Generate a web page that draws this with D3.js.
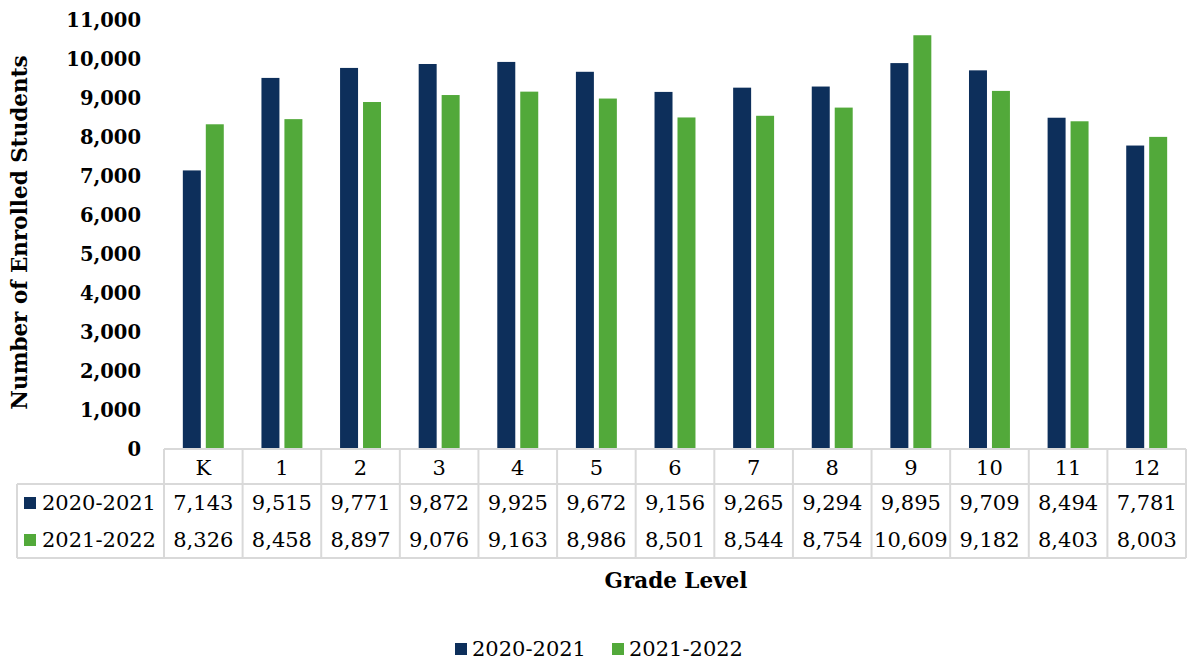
<!DOCTYPE html>
<html>
<head>
<meta charset="utf-8">
<script src="https://cdn.jsdelivr.net/npm/d3@7"></script>
<style>
  html, body { margin: 0; padding: 0; background: #fff; }
  svg { display: block; }
  text { font-family: "DejaVu Serif", "Liberation Serif", serif; fill: #000; }
</style>
</head>
<body>
<svg id="chart" width="1187" height="662"></svg>
<script>
const categories = ["K", "1", "2", "3", "4", "5", "6", "7", "8", "9", "10", "11", "12"];
const seriesNames = ["2020-2021", "2021-2022"];
const values2020 = [7143, 9515, 9771, 9872, 9925, 9672, 9156, 9265, 9294, 9895, 9709, 8494, 7781];
const values2021 = [8326, 8458, 8897, 9076, 9163, 8986, 8501, 8544, 8754, 10609, 9182, 8403, 8003];
const yTicks = [0, 1000, 2000, 3000, 4000, 5000, 6000, 7000, 8000, 9000, 10000, 11000];
const colors = ["#0d2f5b", "#52a93a"];
const seriesValues = [values2020, values2021];

const svg = d3.select("#chart");
const plotLeft = 164, plotRight = 1186, plotTop = 20, plotBottom = 449;
const tableLeft = 17;
const headerBottom = 484, tableBottom = 558;
const tableFont = 21;

const x = d3.scaleBand().domain(categories).range([plotLeft, plotRight]).padding(0);
const x1 = d3.scaleBand().domain(seriesNames).range([0, x.bandwidth()])
  .paddingInner(0.217).paddingOuter(0.82);
const y = d3.scaleLinear().domain([0, 11000]).range([plotBottom, plotTop]);
const fmt = d3.format(",");

// Bars
seriesNames.forEach((s, si) => {
  svg.append("g").selectAll("rect")
    .data(categories.map((c, i) => ({ c, v: seriesValues[si][i] })))
    .join("rect")
    .attr("x", d => x(d.c) + x1(s))
    .attr("width", x1.bandwidth())
    .attr("y", d => y(d.v))
    .attr("height", d => y(0) - y(d.v))
    .attr("fill", colors[si]);
});

// Y axis
const yAxis = d3.axisLeft(y).tickValues(yTicks).tickFormat(fmt).tickSize(0).tickPadding(0);
const yg = svg.append("g").attr("transform", "translate(141,0)").call(yAxis);
yg.select(".domain").remove();
yg.selectAll("text")
  .attr("font-family", "DejaVu Serif")
  .attr("font-weight", "bold")
  .attr("font-size", 19.5)
  .attr("fill", "#000")
  .attr("dy", "0.35em");

// Y axis title
svg.append("text")
  .attr("transform", `translate(27,${(plotTop + plotBottom) / 2 - 2}) rotate(-90)`)
  .attr("text-anchor", "middle")
  .attr("font-weight", "bold")
  .attr("font-size", 21.5)
  .text("Number of Enrolled Students");

// Data table
const grid = svg.append("g").attr("stroke", "#d9d9d9").attr("stroke-width", 2);
grid.append("line").attr("x1", plotLeft).attr("x2", plotRight).attr("y1", plotBottom).attr("y2", plotBottom);
grid.append("line").attr("x1", tableLeft).attr("x2", plotRight).attr("y1", headerBottom).attr("y2", headerBottom);
grid.append("line").attr("x1", tableLeft).attr("x2", plotRight).attr("y1", tableBottom).attr("y2", tableBottom);
grid.append("line").attr("x1", tableLeft).attr("x2", tableLeft).attr("y1", headerBottom).attr("y2", tableBottom);
grid.selectAll(".v").data(categories.concat(["end"]))
  .join("line")
  .attr("x1", (d, i) => i < categories.length ? x(d) : plotRight)
  .attr("x2", (d, i) => i < categories.length ? x(d) : plotRight)
  .attr("y1", plotBottom).attr("y2", tableBottom);

// Header row (categories)
const xAxis = d3.axisBottom(x).tickSize(0).tickPadding(0);
const xg = svg.append("g").attr("transform", `translate(0,${(plotBottom + headerBottom) / 2 + 1})`).call(xAxis);
xg.select(".domain").remove();
xg.selectAll("text")
  .attr("font-family", "DejaVu Serif")
  .attr("font-size", tableFont)
  .attr("fill", "#000")
  .attr("dy", "0.35em");

// Value rows
const rowY = [503, 540];
seriesNames.forEach((s, si) => {
  const g = svg.append("g");
  g.append("rect").attr("x", 24).attr("y", rowY[si] - 6).attr("width", 12).attr("height", 12).attr("fill", colors[si]);
  g.append("text").attr("x", 42).attr("y", rowY[si]).attr("dy", "0.35em")
    .attr("font-size", tableFont).text(s);
  g.selectAll(".val").data(categories.map((c, i) => ({ c, v: seriesValues[si][i] })))
    .join("text")
    .attr("x", d => x(d.c) + x.bandwidth() / 2)
    .attr("y", rowY[si]).attr("dy", "0.35em")
    .attr("text-anchor", "middle")
    .attr("font-size", tableFont)
    .text(d => fmt(d.v));
});

// X axis title
svg.append("text")
  .attr("x", 676).attr("y", 580).attr("dy", "0.35em")
  .attr("text-anchor", "middle")
  .attr("font-weight", "bold")
  .attr("font-size", 21.5)
  .text("Grade Level");

// Legend
const legendItems = [{ name: seriesNames[0], x: 455 }, { name: seriesNames[1], x: 612 }];
legendItems.forEach((d, i) => {
  svg.append("rect").attr("x", d.x).attr("y", 643).attr("width", 12).attr("height", 12).attr("fill", colors[i]);
  svg.append("text").attr("x", d.x + 17).attr("y", 649).attr("dy", "0.35em")
    .attr("font-size", tableFont).text(d.name);
});
</script>
</body>
</html>
